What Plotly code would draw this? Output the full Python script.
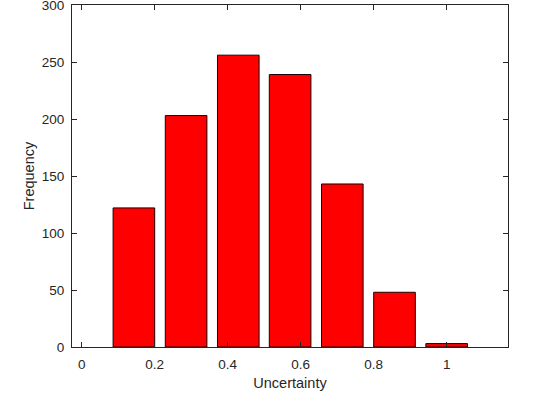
import plotly.graph_objects as go

bin_centers = [0.143, 0.286, 0.429, 0.571, 0.714, 0.857, 1.0]
counts = [122, 203, 256, 239, 143, 48, 3]
x_ticks = [0, 0.2, 0.4, 0.6, 0.8, 1]
x_ticktext = ['0', '0.2', '0.4', '0.6', '0.8', '1']
y_ticks = [0, 50, 100, 150, 200, 250, 300]

fig = go.Figure()
fig.add_trace(go.Bar(
    x=bin_centers,
    y=counts,
    width=0.114,
    marker_color='#ff0000',
    marker_line_color='#1a0000',
    marker_line_width=1,
))

axis_style = dict(
    showline=True,
    linecolor='#262626',
    linewidth=1,
    mirror='ticks',
    ticks='inside',
    ticklen=5,
    tickcolor='#262626',
    showgrid=False,
    zeroline=False,
    automargin=False,
    ticklabeloverflow='allow',
    tickfont=dict(size=13.5, color='#262626'),
)

fig.update_layout(
    width=556,
    height=394,
    margin={"l": 72, "r": 48, "t": 5, "b": 47},
    paper_bgcolor='white',
    plot_bgcolor='white',
    font=dict(family='Liberation Sans, Arial, sans-serif', color='#262626'),
    showlegend=False,
    xaxis=dict(
        range=[-0.0266, 1.168],
        tickvals=x_ticks,
        ticktext=x_ticktext,
        ticklabelstandoff=5,
        title=dict(text='Uncertainty', font=dict(size=14.5), standoff=6),
        **axis_style
    ),
    yaxis=dict(
        range=[0, 300],
        tickvals=y_ticks,
        ticklabelstandoff=4,
        title=dict(text='Frequency', font=dict(size=14.5), standoff=3),
        **axis_style
    ),
)

# drop the page's default body margin so the figure sits at the window corner
fig.write_html("out.html", config={'displayModeBar': False},
               post_script="document.body.style.margin='0px';")
